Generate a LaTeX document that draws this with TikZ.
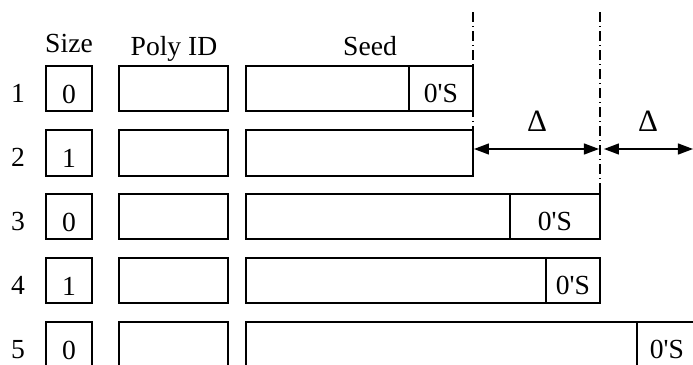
\documentclass[tikz,border=0pt]{standalone}
\usepackage{fontspec}
\newfontfamily\tnr{Liberation Serif}
\usetikzlibrary{arrows.meta,fit}
\begin{document}
\begin{tikzpicture}[x=0.5pt,y=-0.5pt,
  cell/.style={draw, line width=0.65pt, inner sep=0pt},
  txt/.style={font=\tnr\fontsize{13.8}{16}\selectfont, inner sep=0pt, anchor=base},
  deltatxt/.style={txt, font=\tnr\fontsize{15.5}{18}\selectfont},
  guide/.style={line width=0.65pt, dash pattern=on 5pt off 2pt on 0.5pt off 2pt},
  dim/.style={line width=0.65pt, {Triangle[length=7.5pt,width=5.5pt]}-{Triangle[length=7.5pt,width=5.5pt]}}]
\useasboundingbox (0,0) rectangle (693,365);
\clip (0,0) rectangle (693,365);

% column headings
\node[txt] (hsize) at (69,52) {Size};
\node[txt] (hpoly) at (174,55) {Poly ID};
\node[txt] (hseed) at (370,55) {Seed};

% row 1
\node[txt] (r1) at (18,102) {1};
\node[cell, fit={(46,66) (92,111)}] (size1) {};
\node[txt] (v1) at (69,103) {0};
\node[cell, fit={(119,66) (228,111)}] (poly1) {};
\node[cell, fit={(246,66) (473,111)}] (seed1) {};
\coordinate (c1) at (409,66);
\draw[line width=0.65pt] (c1) -- (c1 |- seed1.south);
\node[txt] (z1) at (441,102) {0\char39S};

% row 2
\node[txt] (r2) at (18,166) {2};
\node[cell, fit={(46,130) (92,176)}] (size2) {};
\node[txt] (v2) at (69,167) {1};
\node[cell, fit={(119,130) (228,176)}] (poly2) {};
\node[cell, fit={(246,130) (473,176)}] (seed2) {};

% row 3
\node[txt] (r3) at (18,230) {3};
\node[cell, fit={(46,194) (92,239)}] (size3) {};
\node[txt] (v3) at (69,231) {0};
\node[cell, fit={(119,194) (228,239)}] (poly3) {};
\node[cell, fit={(246,194) (600,239)}] (seed3) {};
\coordinate (c3) at (510,194);
\draw[line width=0.65pt] (c3) -- (c3 |- seed3.south);
\node[txt] (z3) at (555,230) {0\char39S};

% row 4
\node[txt] (r4) at (18,294) {4};
\node[cell, fit={(46,258) (92,303)}] (size4) {};
\node[txt] (v4) at (69,295) {1};
\node[cell, fit={(119,258) (228,303)}] (poly4) {};
\node[cell, fit={(246,258) (600,303)}] (seed4) {};
\coordinate (c4) at (546,258);
\draw[line width=0.65pt] (c4) -- (c4 |- seed4.south);
\node[txt] (z4) at (573,294) {0\char39S};

% row 5
\node[txt] (r5) at (18,358) {5};
\node[cell, fit={(46,322) (92,367)}] (size5) {};
\node[txt] (v5) at (69,359) {0};
\node[cell, fit={(119,322) (228,367)}] (poly5) {};
\node[cell, fit={(246,322) (698,367)}] (seed5) {};
\coordinate (c5) at (637,322);
\draw[line width=0.65pt] (c5) -- (c5 |- seed5.south);
\node[txt] (z5) at (667,358) {0\char39S};

% dash-dot guides and increments
\coordinate (g1top) at (473,12);
\coordinate (g2top) at (600,12);
\draw[guide] (g1top) -- (g1top |- seed2.south);
\draw[guide] (g2top) -- (g2top |- seed3.south);
\coordinate (a1) at (474,149);
\coordinate (a2) at (599,149);
\coordinate (a3) at (604,149);
\coordinate (a4) at (693,149);
\draw[dim] (a1) -- (a2);
\draw[dim] (a3) -- (a4);
\node[deltatxt] (d1) at (537,131) {Δ};
\node[deltatxt] (d2) at (648,131) {Δ};
\end{tikzpicture}
\end{document}
